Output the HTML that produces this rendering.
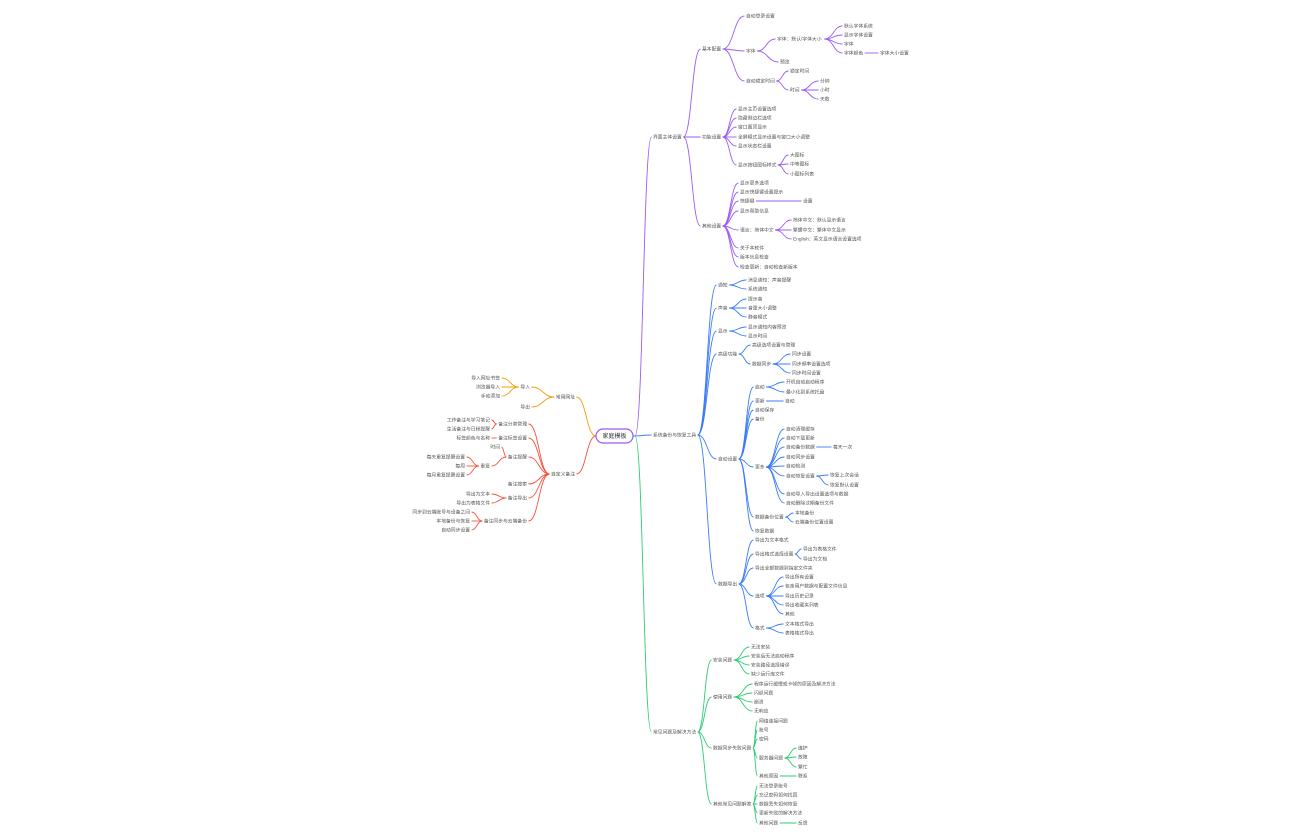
<!DOCTYPE html>
<html><head><meta charset="utf-8"><style>
html,body{margin:0;padding:0;background:#fff;width:1296px;height:840px;overflow:hidden}
svg text{font-family:"Liberation Sans","Noto Sans CJK SC",sans-serif;font-size:4.8px;fill:#555}
</style></head><body>
<svg id="s" width="1296" height="840" viewBox="0 0 1296 840" xmlns="http://www.w3.org/2000/svg">
<rect x="596" y="429" width="37" height="14" rx="7" fill="#fff" stroke="#9b5cf0" stroke-width="1.2"/>
<text x="614.5" y="438.2" text-anchor="middle" style="font-size:6px;fill:#333">家庭模板</text>
</svg>
<script>
const S=document.getElementById('s');const NS='http://www.w3.org/2000/svg';
function el(n,a){const e=document.createElementNS(NS,n);for(const k in a)e.setAttribute(k,a[k]);S.appendChild(e);return e;}
function curve(x1,y1,x2,y2,c){const m=(x1+x2)/2;el('path',{d:`M${x1},${y1} C${m},${y1} ${m},${y2} ${x2},${y2}`,fill:'none',stroke:c,'stroke-width':0.9});}
function W(t){let w=0;for(const ch of t)w+=ch.charCodeAt(0)>255?4.8:2.7;return w;}
function drawR(n,c,px,py){const [t,x,y,ch]=n;const w=W(t);
 const tx=el('text',{x:x,y:y+1.7});tx.textContent=t;
 if(px!==undefined)curve(px,py,x-1.5,y,c);
 (ch||[]).forEach(k=>drawR(k,c,x+w+1.5,y));}
function drawL(n,c,px,py){const [t,x,y,ch]=n;const w=W(t);
 const tx=el('text',{x:x,y:y+1.7,'text-anchor':'end'});tx.textContent=t;
 if(px!==undefined)curve(px,py,x+1.5,y,c);
 (ch||[]).forEach(k=>drawL(k,c,x-w-1.5,y));}
const P='#9b5cf0',B='#3b7cf6',G='#2ecc71',O='#f59e0b',Rd='#f5533d';
drawR(['界面主体设置',653,137,[
 ['基本配置',702,49,[
  ['自动登录设置',746,16],
  ['字体',746,51,[
   ['字体：默认/字体大小',777,39,[['默认字体系统',844,26],['显示字体设置',844,35],['字体',844,44],['字体颜色',844,53,[['字体大小设置',880,53]]]]],
   ['预览',780,62]]],
  ['自动锁定时间',746,81,[['锁定时间',790,71],['时间',790,90,[['分钟',820,81],['小时',820,90],['天数',820,99]]]]]]],
 ['功能设置',702,137,[
  ['显示主页设置选项',738,109],['隐藏侧边栏选项',738,118],['窗口置顶显示',738,127],['全屏模式显示设置与窗口大小调整',738,137],['显示状态栏设置',738,146],
  ['显示按钮图标样式',738,165,[['大图标',790,155],['中等图标',790,164],['小图标列表',790,174]]]]],
 ['其他设置',702,226,[
  ['显示更多选项',740,183],['显示快捷键设置提示',740,192],['快捷键',740,201,[['设置',803,201]]],['显示帮助信息',740,211],
  ['语言：简体中文',740,230,[['简体中文：默认显示语言',793,220],['繁體中文：繁体中文显示',793,230],['English：英文显示语言设置选项',793,239]]],
  ['关于本软件',740,248],['版本信息检查',740,257],['检查更新：自动检查新版本',740,267]]]]],P,635,436);
drawR(['系统备份与恢复工具',653,435,[
 ['通知',718,285,[['消息通知：声音提醒',748,280],['系统通知',748,289]]],
 ['声音',718,308,[['提示音',748,299],['音量大小调整',748,308],['静音模式',748,317]]],
 ['显示',718,331,[['显示通知内容预览',748,327],['显示时间',748,336]]],
 ['高级功能',718,354,[['高级选项设置与管理',752,345],['数据同步',752,364,[['同步设置',792,354],['同步频率设置选项',792,364],['同步时间设置',792,373]]]]],
 ['自动设置',718,459,[
  ['启动',755,387,[['开机自动启动程序',786,382],['最小化到系统托盘',786,392]]],
  ['更新',755,401,[['自动',785,401]]],['自动保存',755,410],['备份',755,419],
  ['更多',755,467,[['自动清理缓存',786,429],['自动下载更新',786,438],['自动备份数据',786,447,[['每天一次',833,447]]],['自动同步设置',786,457],['自动检测',786,466],
   ['自动恢复设置',786,476,[['恢复上次会话',830,475],['恢复默认设置',830,485]]],['自动导入导出设置选项与数据',786,494],['自动删除过期备份文件',786,503]]],
  ['数据备份位置',755,517,[['本地备份',795,513],['云端备份位置设置',795,522]]],['恢复数据',755,531]]],
 ['数据导出',718,584,[
  ['导出为文本格式',755,540],['导出格式选择设置',755,554,[['导出为表格文件',803,549],['导出为文档',803,559]]],['导出全部数据到指定文件夹',755,568],
  ['选项',755,596,[['导出所有设置',785,577],['包含用户数据与配置文件信息',785,586],['导出历史记录',785,596],['导出收藏夹列表',785,605],['其他',785,614]]],
  ['格式',755,628,[['文本格式导出',785,624],['表格格式导出',785,633]]]]]]],B,633,436);
drawR(['常见问题及解决方法',653,732,[
 ['安装问题',713,660,[['无法安装',751,647],['安装后无法启动程序',751,656],['安装路径选择错误',751,665],['缺少运行库文件',751,674]]],
 ['使用问题',713,697,[['程序运行缓慢或卡顿的原因及解决方法',754,684],['闪退问题',754,693],['崩溃',754,702],['无响应',754,711]]],
 ['数据同步失败问题',713,748,[['网络连接问题',759,721],['账号',759,730],['密码',759,739],['服务器问题',759,758,[['维护',798,748],['故障',798,757],['繁忙',798,767]]],['其他原因',759,776,[['联系',798,776]]]]],
 ['其他常见问题解答',713,804,[['无法登录账号',759,786],['忘记密码如何找回',759,795],['数据丢失如何恢复',759,804],['更新失败的解决方法',759,813],['其他问题',759,823,[['反馈',798,823]]]]]]],G,635,436);
drawL(['常用网址',575,397,[
 ['导入',530,387,[['导入网址书签',500,378],['浏览器导入',500,387],['手动添加',500,396]]],
 ['导出',530,407]]],O,596,436);
drawL(['自定义备注',575,474,[
 ['备注分类管理',527,424,[['工作备注与学习笔记',490,420],['生活备注与日程提醒',490,429]]],
 ['备注标签设置',527,438,[['标签颜色与名称',490,438]]],
 ['备注提醒',527,457,[['时间',500,447],['重复',490,466,[['每天重复提醒设置',465,457],['每周',465,466],['每月重复提醒设置',465,475]]]]],
 ['备注搜索',527,484],
 ['备注导出',527,498,[['导出为文本',490,494],['导出为表格文件',490,503]]],
 ['备注同步与云端备份',527,521,[['同步到云端账号与设备之间',470,512],['本地备份与恢复',470,521],['自动同步设置',470,530]]]]],Rd,596,436);
</script>
</body></html>
